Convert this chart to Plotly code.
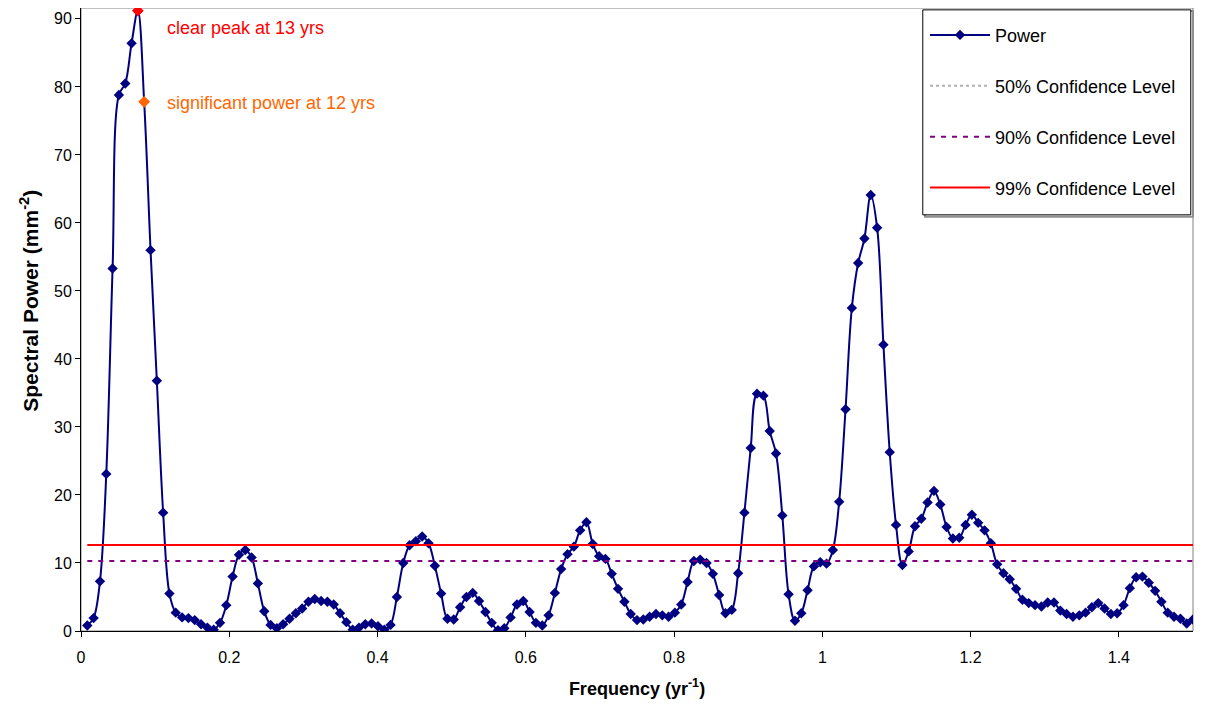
import plotly.graph_objects as go

# Frequencies (yr^-1) of the periodogram points
freq = [0.0085, 0.0170, 0.0256, 0.0341, 0.0426, 0.0511, 0.0597, 0.0682, 0.0767, 0.0852,
        0.0938, 0.1023, 0.1108, 0.1193, 0.1278, 0.1364, 0.1449, 0.1534, 0.1619, 0.1705,
        0.1790, 0.1875, 0.1960, 0.2045, 0.2131, 0.2216, 0.2301, 0.2386, 0.2472, 0.2557,
        0.2642, 0.2727, 0.2813, 0.2898, 0.2983, 0.3068, 0.3153, 0.3239, 0.3324, 0.3409,
        0.3494, 0.3580, 0.3665, 0.3750, 0.3835, 0.3920, 0.4006, 0.4091, 0.4176, 0.4261,
        0.4347, 0.4432, 0.4517, 0.4602, 0.4688, 0.4773, 0.4858, 0.4943, 0.5028, 0.5114,
        0.5199, 0.5284, 0.5369, 0.5455, 0.5540, 0.5625, 0.5710, 0.5795, 0.5881, 0.5966,
        0.6051, 0.6136, 0.6222, 0.6307, 0.6392, 0.6477, 0.6563, 0.6648, 0.6733, 0.6818,
        0.6903, 0.6989, 0.7074, 0.7159, 0.7244, 0.7330, 0.7415, 0.7500, 0.7585, 0.7670,
        0.7756, 0.7841, 0.7926, 0.8011, 0.8097, 0.8182, 0.8267, 0.8352, 0.8438, 0.8523,
        0.8608, 0.8693, 0.8778, 0.8864, 0.8949, 0.9034, 0.9119, 0.9205, 0.9290, 0.9375,
        0.9460, 0.9545, 0.9631, 0.9716, 0.9801, 0.9886, 0.9972, 1.0057, 1.0142, 1.0227,
        1.0313, 1.0398, 1.0483, 1.0568, 1.0653, 1.0739, 1.0824, 1.0909, 1.0994, 1.1080,
        1.1165, 1.1250, 1.1335, 1.1420, 1.1506, 1.1591, 1.1676, 1.1761, 1.1847, 1.1932,
        1.2017, 1.2102, 1.2188, 1.2273, 1.2358, 1.2443, 1.2528, 1.2614, 1.2699, 1.2784,
        1.2869, 1.2955, 1.3040, 1.3125, 1.3210, 1.3295, 1.3381, 1.3466, 1.3551, 1.3636,
        1.3722, 1.3807, 1.3892, 1.3977, 1.4063, 1.4148, 1.4233, 1.4318, 1.4403, 1.4489,
        1.4574, 1.4659, 1.4744, 1.4830, 1.4915, 1.5000]

# Spectral power (mm^-2)
power = [0.8, 1.9, 7.3, 23.1, 53.3, 78.8, 80.5, 86.4, 91.2, 77.8,
         56.0, 36.8, 17.4, 5.5, 2.7, 2.0, 1.9, 1.6, 1.0, 0.5,
         0.2, 1.2, 3.8, 8.0, 11.2, 11.9, 10.8, 7.0, 2.9, 0.9,
         0.4, 1.0, 1.8, 2.6, 3.3, 4.3, 4.7, 4.4, 4.3, 3.9,
         2.6, 1.3, 0.2, 0.5, 1.0, 1.1, 0.7, 0.2, 0.9, 5.0,
         10.0, 12.6, 13.2, 13.9, 12.9, 9.6, 5.5, 1.8, 1.7, 3.5,
         5.0, 5.6, 4.4, 2.8, 1.2, 0.1, 0.4, 2.0, 3.9, 4.4,
         2.8, 1.2, 0.8, 2.3, 5.6, 9.1, 11.3, 12.4, 14.8, 16.0,
         12.8, 11.0, 10.6, 8.4, 6.2, 4.3, 2.5, 1.6, 1.7, 2.1,
         2.5, 2.3, 2.1, 2.7, 3.9, 7.2, 10.3, 10.5, 10.0, 8.4,
         5.3, 2.6, 3.1, 8.5, 17.4, 26.9, 34.9, 34.6, 29.4, 26.1,
         17.0, 5.4, 1.5, 2.6, 6.0, 9.5, 10.1, 9.9, 11.9, 19.0,
         32.6, 47.5, 54.1, 57.7, 64.1, 59.3, 42.1, 26.3, 15.6, 9.7,
         11.7, 15.4, 16.5, 18.9, 20.6, 18.6, 15.3, 13.6, 13.7, 15.6,
         17.1, 15.9, 14.8, 12.9, 9.8, 8.5, 7.6, 6.2, 4.6, 4.1,
         3.8, 3.6, 4.2, 4.2, 3.0, 2.5, 2.1, 2.3, 2.7, 3.5,
         4.1, 3.3, 2.5, 2.6, 3.8, 6.3, 7.9, 8.0, 7.1, 5.9,
         4.3, 2.7, 2.1, 1.8, 1.1, 1.7]

conf90 = 10.3
conf99 = 12.65
peak13_index = 8      # clear peak at 13 yrs
peak12_index = 9      # significant power at 12 yrs

FONT = "Arial, Liberation Sans, sans-serif"
NAVY = "#000080"

fig = go.Figure()

fig.add_trace(go.Scatter(
    x=freq, y=power, name="Power", mode="lines+markers",
    line=dict(color=NAVY, width=2, shape="spline", smoothing=1.0),
    marker=dict(symbol="diamond", size=8, color=NAVY),
    legendgroup="a"))

fig.add_trace(go.Scatter(
    x=[None], y=[None], name="50% Confidence Level", mode="lines",
    line=dict(color="#B0B0B0", width=2, dash="dot"), legendgroup="b"))

fig.add_trace(go.Scatter(
    x=[freq[0], freq[-1]], y=[conf90, conf90], name="90% Confidence Level", mode="lines",
    line=dict(color="#800080", width=2, dash="5px,6px"), legendgroup="c"))

fig.add_trace(go.Scatter(
    x=[freq[0], freq[-1]], y=[conf99, conf99], name="99% Confidence Level", mode="lines",
    line=dict(color="#FF0000", width=2), legendgroup="d"))

fig.add_trace(go.Scatter(
    x=[freq[peak13_index]], y=[power[peak13_index]], mode="markers", showlegend=False,
    marker=dict(symbol="diamond", size=9, color="#FF0000"), cliponaxis=False))
fig.add_trace(go.Scatter(
    x=[freq[peak12_index]], y=[power[peak12_index]], mode="markers", showlegend=False,
    marker=dict(symbol="diamond", size=9, color="#FF6600")))

fig.add_annotation(x=0.1133, y=88.7, text="clear peak at 13 yrs", showarrow=False,
                   xanchor="left", yanchor="middle",
                   font=dict(family=FONT, size=18, color="#FF0000"))
fig.add_annotation(x=0.1133, y=77.7, text="significant power at 12 yrs", showarrow=False,
                   xanchor="left", yanchor="middle",
                   font=dict(family=FONT, size=18, color="#FF6600"))

# y-axis title placed as a rotated annotation
fig.add_annotation(xref="paper", yref="paper", x=-0.0468, y=0.53,
                   text="<b>Spectral Power (mm<sup>-2</sup>)</b>", textangle=-90,
                   showarrow=False, xanchor="center", yanchor="middle",
                   font=dict(family=FONT, size=21, color="black"))

# plot-area border (grey) and legend box
fig.add_shape(type="rect", xref="paper", yref="paper", x0=0, x1=1, y0=0, y1=1,
              line=dict(color="#808080", width=1), layer="below")
fig.add_shape(type="rect", xref="paper", yref="paper", x0=0.759, x1=1.0, y0=0.665, y1=0.995,
              line=dict(color="#909090", width=2), layer="below")
fig.add_shape(type="rect", xref="paper", yref="paper", x0=0.757, x1=0.998, y0=0.668, y1=0.997,
              line=dict(color="#000000", width=1), fillcolor="white", layer="below")

fig.update_layout(
    width=1189, height=691,
    margin=dict(l=73, r=4, t=0, b=68),
    paper_bgcolor="white", plot_bgcolor="white",
    font=dict(family=FONT, size=16, color="black"),
    showlegend=True,
    legend=dict(x=0.759, y=0.986, xanchor="left", yanchor="top",
                bgcolor="rgba(0,0,0,0)", borderwidth=0,
                font=dict(family=FONT, size=18, color="black"),
                traceorder="grouped", tracegroupgap=24.5, itemwidth=60),
    xaxis=dict(range=[0, 1.5], dtick=0.2, tick0=0, showgrid=False, zeroline=False,
               showline=True, linecolor="black", linewidth=1,
               ticks="outside", ticklen=5, tickcolor="black", ticklabelstandoff=7,
               tickfont=dict(family=FONT, size=16, color="black"),
               title=dict(text="<b>Frequency (yr<sup>-1</sup>)</b>", standoff=20,
                          font=dict(family=FONT, size=18, color="black"))),
    yaxis=dict(range=[0, 91.6], dtick=10, tick0=0, showgrid=False, zeroline=False,
               showline=True, linecolor="black", linewidth=1,
               ticks="outside", ticklen=5, tickcolor="black",
               tickfont=dict(family=FONT, size=16, color="black")),
)

fig.write_html("out.html")
